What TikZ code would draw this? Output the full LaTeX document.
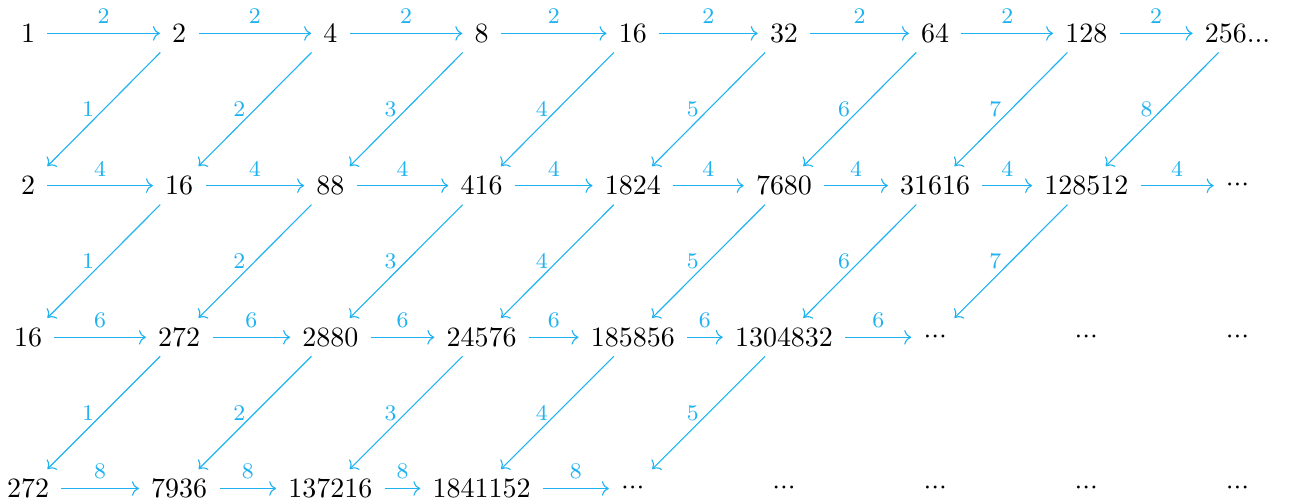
\documentclass[tikz,border=0pt]{standalone}
\usepackage{amsmath,amssymb}
\usepackage{xcolor}
\usepackage{tikz}
\usetikzlibrary{arrows.meta, positioning, calc}

\definecolor{arrowblue}{RGB}{30,178,240}
\newcommand{\mdots}{\raisebox{1.1pt}{${\cdot}{\cdot}{\cdot}$}}
\newcommand{\bdots}{...}

\tikzset{
    entry/.style={anchor=base, inner xsep=4.2pt, inner ysep=0pt, text height=6.44pt, text depth=0pt},
    hop/.style={draw=arrowblue, -{Computer Modern Rightarrow}},
    slant/.style={hop, shorten <=9.6pt, shorten >=9.8pt},
    weight/.style={font=\footnotesize, text=arrowblue, inner sep=3.2pt}
}

\begin{document}
\begin{tikzpicture}
    \useasboundingbox (0,0) rectangle (16.19,6.33);

    % Table entries, row by row
    \foreach \c/\v in {0/1, 1/2, 2/4, 3/8, 4/16, 5/32, 6/64, 7/128, 8/256\bdots}
        \node[entry] (n-0-\c) at (0.352+1.899*\c, 5.797) {$\v$};
    \foreach \c/\v in {0/2, 1/16, 2/88, 3/416, 4/1824, 5/7680, 6/31616, 7/128512, 8/\mdots}
        \node[entry] (n-1-\c) at (0.352+1.899*\c, 3.885) {$\v$};
    \foreach \c/\v in {0/16, 1/272, 2/2880, 3/24576, 4/185856, 5/1304832, 6/\mdots, 7/\mdots, 8/\mdots}
        \node[entry] (n-2-\c) at (0.352+1.899*\c, 1.98) {$\v$};
    \foreach \c/\v in {0/272, 1/7936, 2/137216, 3/1841152, 4/\mdots, 5/\mdots, 6/\mdots, 7/\mdots, 8/\mdots}
        \node[entry] (n-3-\c) at (0.352+1.899*\c, 0.081) {$\v$};

    % Horizontal steps
    \foreach \r/\last/\w in {0/7/2, 1/7/4, 2/5/6, 3/3/8} {
        \foreach \c in {0,...,\last} {
            \pgfmathtruncatemacro{\d}{\c+1}
            \draw[hop] (n-\r-\c) -- (n-\r-\d) node[midway, above, weight] {$\w$};
        }
    }

    % Diagonal steps
    \foreach \r/\last in {0/7, 1/6, 2/4} {
        \foreach \c in {0,...,\last} {
            \pgfmathtruncatemacro{\d}{\c+1}
            \pgfmathtruncatemacro{\s}{\r+1}
            \draw[slant] (n-\r-\d.center) -- (n-\s-\c.center) node[midway, left, weight] {$\d$};
        }
    }
\end{tikzpicture}
\end{document}
